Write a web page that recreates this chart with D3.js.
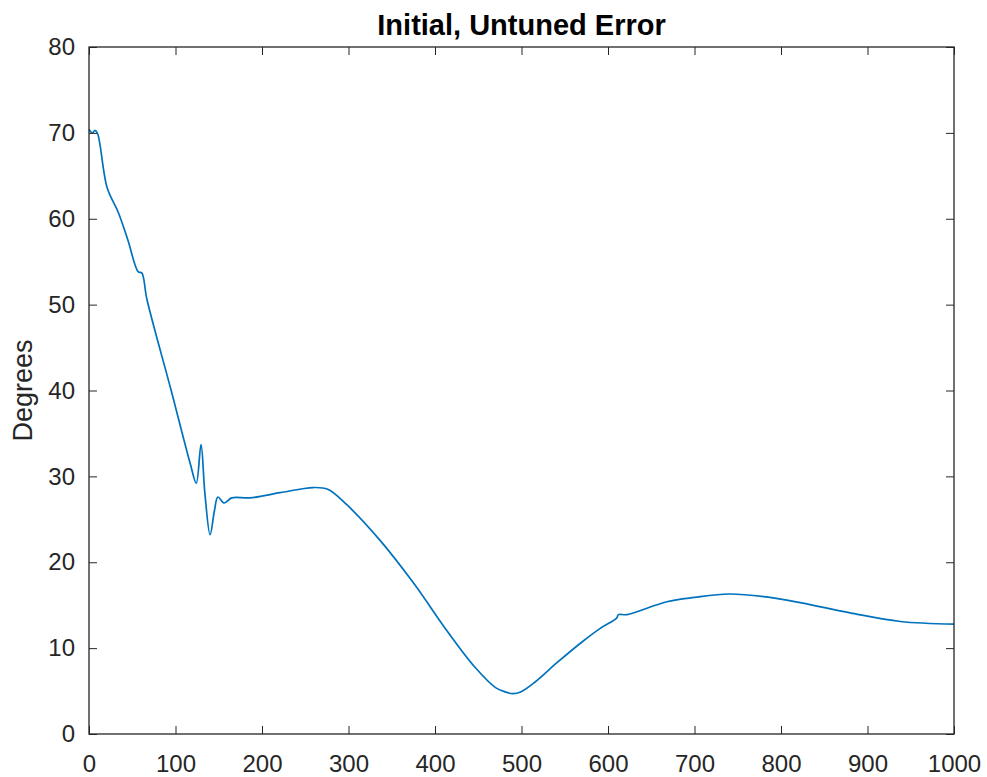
<!DOCTYPE html>
<html>
<head>
<meta charset="utf-8">
<script src="https://cdn.jsdelivr.net/npm/d3@7"></script>
<style>
  body { margin: 0; background: #fff; }
  text { font-family: "Liberation Sans", Arial, Helvetica, sans-serif; }
</style>
</head>
<body>
<svg id="chart" width="987" height="777"></svg>
<script>
(function () {
    'use strict';

    var xValues = [0, 4, 7, 10, 21, 34, 45, 57, 61, 67, 95, 117, 124, 129.5, 134, 140, 145, 149, 156, 165, 186,
        221, 259, 276, 298, 336, 375, 414, 446, 470, 481, 490, 499, 515, 541, 571, 591, 610, 612, 622, 668, 700, 740, 780,
        822, 880, 938, 1000];
    var yValues = [70.4, 70.0, 70.3, 69.9, 63.6, 60.7, 57.5, 53.8, 53.7, 50.6, 40, 31.5, 29.2, 33.7, 28, 23.2, 26, 27.6, 26.9, 27.5, 27.5,
        28.1, 28.7, 28.5, 26.7, 22.6, 17.6, 12.0, 7.8, 5.4, 4.9, 4.7, 4.9, 6.0, 8.3, 10.8, 12.3, 13.5, 13.9, 13.9, 15.4, 15.9, 16.3, 16.0,
        15.3, 14.1, 13.1, 12.8];
    var xTicks = [0, 100, 200, 300, 400, 500, 600, 700, 800, 900, 1000];
    var yTicks = [0, 10, 20, 30, 40, 50, 60, 70, 80];
    var title = "Initial, Untuned Error";
    var yLabel = "Degrees";

    var left = 89, right = 954, top = 47, bottom = 734;
    var axisColor = "#262626";

    var svg = d3.select("#chart");

    var x = d3.scaleLinear().domain([0, 1000]).range([left, right]);
    var y = d3.scaleLinear().domain([0, 80]).range([bottom, top]);

    var points = xValues.map(function (d, i) { return [d, yValues[i]]; });

    // the curve
    svg.append("path")
        .datum(points)
        .attr("fill", "none")
        .attr("stroke", "#0072BD")
        .attr("stroke-width", 1.7)
        .attr("d", d3.line()
            .x(function (d) { return x(d[0]); })
            .y(function (d) { return y(d[1]); })
            .curve(d3.curveCatmullRom.alpha(0.5)));

    // axes, ticks inward on all four sides
    function styleAxis(g) {
        g.select(".domain").remove();
        g.selectAll(".tick line").attr("stroke", axisColor);
        g.selectAll(".tick text")
            .attr("fill", axisColor)
            .style("font-size", "24px")
            .style("font-family", "'Liberation Sans', Arial, sans-serif");
    }

    svg.append("g")
        .attr("transform", "translate(0," + bottom + ")")
        .call(d3.axisBottom(x).tickValues(xTicks).tickSize(-8).tickPadding(21).tickFormat(d3.format("d")))
        .call(styleAxis);
    svg.append("g")
        .attr("transform", "translate(0," + top + ")")
        .call(d3.axisTop(x).tickValues(xTicks).tickSize(-8).tickFormat(""))
        .call(styleAxis);
    svg.append("g")
        .attr("transform", "translate(" + left + ",0)")
        .call(d3.axisLeft(y).tickValues(yTicks).tickSize(-8).tickPadding(14).tickFormat(d3.format("d")))
        .call(styleAxis);
    svg.append("g")
        .attr("transform", "translate(" + right + ",0)")
        .call(d3.axisRight(y).tickValues(yTicks).tickSize(-8).tickFormat(""))
        .call(styleAxis);

    svg.append("rect")
        .attr("x", left)
        .attr("y", top)
        .attr("width", right - left)
        .attr("height", bottom - top)
        .attr("fill", "none")
        .attr("stroke", axisColor)
        .attr("stroke-width", 1.3);

    svg.append("text")
        .attr("x", (left + right) / 2)
        .attr("y", 35)
        .attr("text-anchor", "middle")
        .style("font-size", "29px")
        .style("font-weight", "bold")
        .attr("fill", "#000")
        .text(title);

    svg.append("text")
        .attr("transform", "translate(32," + ((top + bottom) / 2) + ") rotate(-90)")
        .attr("text-anchor", "middle")
        .style("font-size", "27px")
        .attr("fill", axisColor)
        .text(yLabel);
}());
</script>
</body>
</html>
